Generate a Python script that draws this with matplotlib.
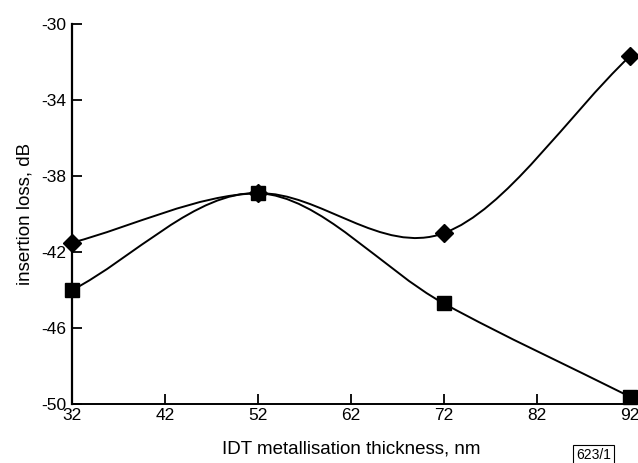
import numpy as np
import matplotlib.pyplot as plt
from matplotlib.path import Path
from matplotlib.patches import PathPatch

plt.rcParams['font.family'] = ['Liberation Sans', 'DejaVu Sans']
plt.rcParams['axes.unicode_minus'] = False

thickness = [32, 52, 72, 92]
loss_diamond = [-41.5, -38.9, -41.0, -31.7]
loss_square = [-44.0, -38.9, -44.7, -49.6]

xticks = [32, 42, 52, 62, 72, 82, 92]
yticks = [-30, -34, -38, -42, -46, -50]


def smooth_path(x, y):
    # cubic hermite (catmull-rom tangents) as bezier segments
    x = np.asarray(x, float)
    y = np.asarray(y, float)
    n = len(x)
    m = np.zeros(n)
    m[0] = (y[1] - y[0]) / (x[1] - x[0])
    m[-1] = (y[-1] - y[-2]) / (x[-1] - x[-2])
    for i in range(1, n - 1):
        m[i] = (y[i + 1] - y[i - 1]) / (x[i + 1] - x[i - 1])
    verts = [(x[0], y[0])]
    codes = [Path.MOVETO]
    for i in range(n - 1):
        h = x[i + 1] - x[i]
        verts += [(x[i] + h / 3, y[i] + m[i] * h / 3),
                  (x[i + 1] - h / 3, y[i + 1] - m[i + 1] * h / 3),
                  (x[i + 1], y[i + 1])]
        codes += [Path.CURVE4] * 3
    return Path(verts, codes)


fig = plt.figure(figsize=(6.38, 4.63), dpi=100)
ax = fig.add_axes([0.113, 0.127, 0.874, 0.821])

for ys, mk, ms in [(loss_diamond, 'D', 9), (loss_square, 's', 10)]:
    ax.add_patch(PathPatch(smooth_path(thickness, ys), facecolor='none',
                           edgecolor='black', lw=1.4, clip_on=False))
    ax.plot(thickness, ys, linestyle='none', marker=mk, ms=ms,
            color='black', clip_on=False, zorder=3)

ax.set_xlim(32, 92)
ax.set_ylim(-50, -30)
ax.set_xticks(xticks)
ax.set_yticks(yticks)
ax.spines['top'].set_visible(False)
ax.spines['right'].set_visible(False)
ax.spines['left'].set_linewidth(1.6)
ax.spines['bottom'].set_linewidth(1.4)
ax.tick_params(direction='in', length=7, width=1.3, labelsize=12.5, pad=4)
ax.tick_params(axis='x', pad=3)
ax.set_xlabel('IDT metallisation thickness, nm', fontsize=13.5, labelpad=12)
ax.set_ylabel('insertion loss, dB', fontsize=13.5, labelpad=6)

fig.text(0.93, 0.003, '623/1', fontsize=10, ha='center', va='bottom',
         bbox=dict(boxstyle='square,pad=0.2', facecolor='white',
                   edgecolor='black', lw=0.8))

fig.savefig('out.png', dpi=100)
